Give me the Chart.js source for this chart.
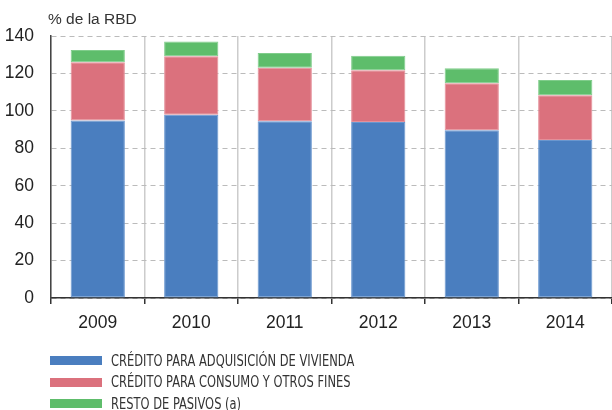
<!DOCTYPE html>
<html>
<head>
<meta charset="utf-8">
<script src="https://cdn.jsdelivr.net/npm/chart.js@4"></script>
<style>
  body { margin: 0; background: #fff; }
  #wrap { position: relative; width: 612px; height: 410px; }
  #legend { position: absolute; left: 50px; top: 350px; font-family: "Liberation Sans Narrow", "DejaVu Sans Condensed", sans-serif; font-size: 15px; color: #333; }
  .item { height: 21.5px; display: flex; align-items: center; }
  .box { width: 52px; height: 9px; margin-right: 9px; flex: none; }
  .txt { display: inline-block; transform: scaleX(0.85); transform-origin: left center; white-space: nowrap; }
</style>
</head>
<body>
<div id="wrap">
  <canvas id="myChart" width="612" height="410"></canvas>
  <div id="legend"></div>
</div>
<script>
let years = ['2009', '2010', '2011', '2012', '2013', '2014'];
let vivienda = [94.9, 97.9, 94.4, 94.0, 89.6, 84.4];
let consumo = [31.1, 31.3, 28.7, 27.7, 25.2, 24.0];
let resto = [6.5, 7.9, 7.8, 7.8, 8.0, 8.1];
let seriesNames = ['CRÉDITO PARA ADQUISICIÓN DE VIVIENDA', 'CRÉDITO PARA CONSUMO Y OTROS FINES', 'RESTO DE PASIVOS (a)'];
let yTicks = [0, 20, 40, 60, 80, 100, 120, 140];
let unitLabel = '% de la RBD';

let colors = ['#4a7ebf', '#db717d', '#5ebd6b'];
let edges = ['#6a97cf', '#e48f99', '#80cd8b'];

// small plugin for the unit label above the y axis
const unitPlugin = {
  id: 'unitLabel',
  afterDraw(chart) {
    const ctx = chart.ctx;
    ctx.save();
    ctx.font = '15.5px "Liberation Sans", Arial, sans-serif';
    ctx.fillStyle = '#333';
    ctx.textBaseline = 'bottom';
    ctx.fillText(unitLabel, chart.chartArea.left - 3, chart.chartArea.top - 9);
    ctx.restore();
  }
};

function renderChart() {
  const ctx = document.getElementById('myChart');
  let data = [vivienda, consumo, resto];
  let datasets = [];
  for (let i = 0; i < data.length; i++) {
    datasets.push({
      label: seriesNames[i],
      data: data[i],
      backgroundColor: colors[i],
      borderColor: edges[i],
      borderWidth: 1,
      borderSkipped: false,
      barPercentage: 0.58,
      categoryPercentage: 1,
    });
  }

  new Chart(ctx, {
    type: 'bar',
    data: { labels: years, datasets: datasets },
    plugins: [unitPlugin],
    options: {
      responsive: false,
      animation: false,
      layout: { padding: { top: 36, right: 0, bottom: 67, left: 0 } },
      plugins: { legend: { display: false }, tooltip: { enabled: false } },
      scales: {
        x: {
          stacked: true,
          offset: true,
          grid: {
            offset: true,
            color: '#cccccc',
            lineWidth: 1.5,
            tickColor: '#333',
            tickLength: 6,
          },
          border: { color: '#333', width: 1.5 },
          ticks: {
            color: '#222',
            font: { family: '"Liberation Sans", Arial, sans-serif', size: 17.5 },
            padding: 9,
          },
        },
        y: {
          stacked: true,
          min: 0,
          max: 140,
          afterBuildTicks: (axis) => { axis.ticks = yTicks.map(v => ({ value: v })); },
          afterFit: (axis) => { axis.width = 51; },
          grid: {
            color: '#bbbbbb',
            lineWidth: 1,
            drawTicks: false,
          },
          border: { color: '#444', width: 1.5, dash: [5, 4] },
          ticks: {
            color: '#222',
            font: { family: '"Liberation Sans", Arial, sans-serif', size: 17.5 },
            padding: 17,
          },
        },
      },
    },
  });
}

function renderLegend() {
  let legend = document.getElementById('legend');
  for (let i = 0; i < seriesNames.length; i++) {
    let item = document.createElement('div');
    item.className = 'item';
    item.innerHTML = `<span class="box" style="background:${colors[i]}"></span><span class="txt">${seriesNames[i]}</span>`;
    legend.appendChild(item);
  }
}

renderChart();
renderLegend();
</script>
</body>
</html>
